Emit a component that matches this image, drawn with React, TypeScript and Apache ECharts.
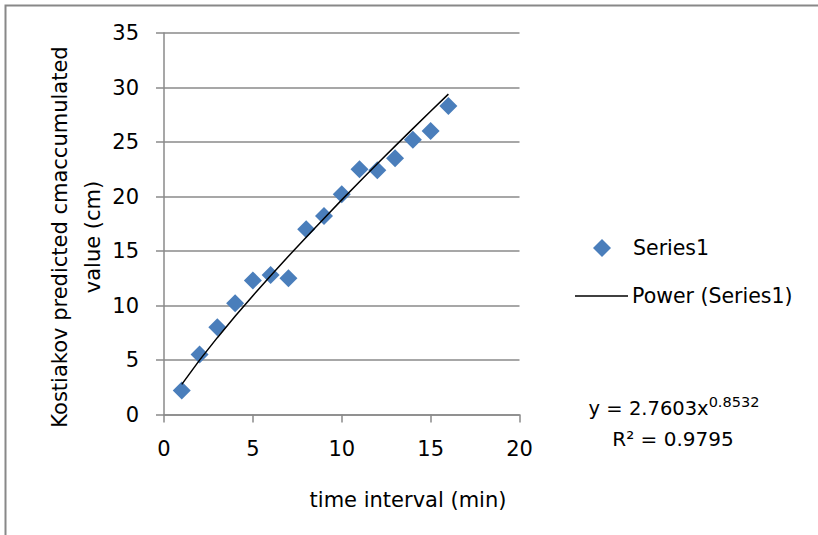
import React, { useEffect, useRef } from "react";
import * as echarts from "echarts";

const timeMin = [1, 2, 3, 4, 5, 6, 7, 8, 9, 10, 11, 12, 13, 14, 15, 16];
const accumulated = [2.2, 5.5, 8.0, 10.2, 12.3, 12.8, 12.5, 17.0, 18.2, 20.2, 22.5, 22.4, 23.5, 25.2, 26.0, 28.3];
const powerTrend = [2.76, 4.99, 7.05, 9.01, 10.9, 12.73, 14.52, 16.27, 17.99, 19.69, 21.35, 23.0, 24.62, 26.23, 27.82, 29.39];
const seriesName = "Series1";
const trendName = "Power (Series1)";
const equationCoef = "y = 2.7603x";
const equationExp = "0.8532";
const rSquared = "R² = 0.9795";
const xTitle = "time interval (min)";
const yTitle = "Kostiakov predicted cmaccumulated\nvalue (cm)";

const FONT = "'DejaVu Sans', sans-serif";

export default function App() {
  const ref = useRef<HTMLDivElement>(null);
  useEffect(() => {
    if (!ref.current) return;
    const chart = echarts.init(ref.current, undefined, { renderer: "svg" });
    const gridColor = "#8a8a8a";
    chart.setOption({
      animation: false,
      backgroundColor: "#ffffff",
      textStyle: { fontFamily: FONT },
      grid: { left: 164, top: 33, width: 355.5, height: 381.5, containLabel: false, outerBoundsMode: "none" },
      xAxis: {
        type: "value",
        min: 0,
        max: 20,
        interval: 5,
        axisLine: { show: true, lineStyle: { color: gridColor, width: 1.5 } },
        axisTick: { show: true, length: 8, lineStyle: { color: gridColor, width: 1.5 } },
        axisLabel: { color: "#000", fontSize: 21, margin: 24, fontFamily: FONT },
        splitLine: { show: false },
      },
      yAxis: {
        type: "value",
        min: 0,
        max: 35,
        interval: 5,
        axisLine: { show: true, lineStyle: { color: gridColor, width: 1.5 } },
        axisTick: { show: true, length: 8, lineStyle: { color: gridColor, width: 1.5 } },
        axisLabel: { color: "#000", fontSize: 21, margin: 25, fontFamily: FONT },
        splitLine: { show: true, lineStyle: { color: gridColor, width: 1.5 } },
      },
      series: [
        {
          name: seriesName,
          type: "scatter",
          symbol: "diamond",
          symbolSize: 18,
          itemStyle: { color: "#4a7ebb", opacity: 1 },
          data: timeMin.map((x, i) => [x, accumulated[i]]),
          z: 2,
        },
        {
          name: trendName,
          type: "line",
          symbol: "none",
          lineStyle: { color: "#000", width: 1.5 },
          data: timeMin.map((x, i) => [x, powerTrend[i]]),
          z: 3,
        },
      ],
      graphic: [
        {
          type: "polyline",
          shape: { points: [[5.5, 535], [5.5, 5.5], [818, 5.5]] },
          style: { fill: "none", stroke: "#888", lineWidth: 2 },
          silent: true,
        },
        {
          type: "text",
          x: 76,
          y: 237,
          rotation: Math.PI / 2,
          style: {
            text: yTitle,
            fontSize: 21,
            lineHeight: 33,
            fontFamily: FONT,
            fill: "#000",
            align: "center",
            verticalAlign: "middle",
          },
        },
        {
          type: "text",
          x: 408,
          y: 500,
          style: { text: xTitle, fontSize: 21, fontFamily: FONT, fill: "#000", align: "center", verticalAlign: "middle" },
        },
        {
          type: "polygon",
          shape: { points: [[602, 239], [611, 248], [602, 257], [593, 248]] },
          style: { fill: "#4a7ebb" },
        },
        {
          type: "text",
          x: 633,
          y: 248,
          style: { text: seriesName, fontSize: 20.5, fontFamily: FONT, fill: "#000", verticalAlign: "middle" },
        },
        {
          type: "line",
          shape: { x1: 575, y1: 296, x2: 628, y2: 296 },
          style: { stroke: "#000", lineWidth: 1.5 },
        },
        {
          type: "text",
          x: 632,
          y: 296,
          style: { text: trendName, fontSize: 20.5, fontFamily: FONT, fill: "#000", verticalAlign: "middle" },
        },
        {
          type: "text",
          x: 674,
          y: 408,
          style: {
            text: "{a|" + equationCoef + "}{b|" + equationExp + "}",
            align: "center",
            verticalAlign: "middle",
            rich: {
              a: { fontSize: 19.5, fontFamily: FONT, fill: "#000", color: "#000" },
              b: { fontSize: 14.5, fontFamily: FONT, fill: "#000", color: "#000", verticalAlign: "top", padding: [0, 0, 12, 0] },
            },
          },
        },
        {
          type: "text",
          x: 673,
          y: 439,
          style: { text: rSquared, fontSize: 20, fontFamily: FONT, fill: "#000", align: "center", verticalAlign: "middle" },
        },
      ],
    });
    return () => chart.dispose();
  }, []);
  return (
    <div
      ref={ref}
      style={{ position: "absolute", left: 0, top: 0, width: 818, height: 535 }}
    />
  );
}
